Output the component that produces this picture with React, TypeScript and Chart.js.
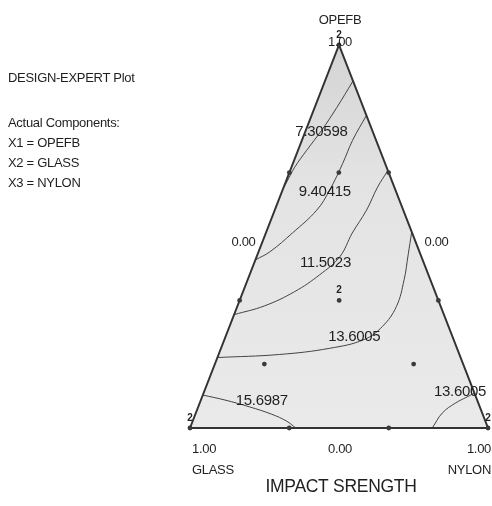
import { useEffect, useRef } from "react";
import { Chart, registerables } from "chart.js";

Chart.register(...registerables);

// A blend is [OPEFB, GLASS, NYLON] as component fractions.
type Blend = [number, number, number];

const componentNames = ["OPEFB", "GLASS", "NYLON"];
const responseName = "IMPACT SRENGTH";
const infoTitle = "DESIGN-EXPERT Plot";
const infoLines = ["Actual Components:", "X1 = OPEFB", "X2 = GLASS", "X3 = NYLON"];
const vertexTick = "1.00";
const oppositeTick = "0.00";

const vertices: Blend[] = [
  [1, 0, 0],
  [0, 1, 0],
  [0, 0, 1],
];

// Design runs and how many times each was replicated
const designRuns: Blend[] = [
  [1, 0, 0],
  [0, 1, 0],
  [0, 0, 1],
  [0.667, 0.333, 0],
  [0.333, 0.667, 0],
  [0.667, 0, 0.333],
  [0.333, 0, 0.667],
  [0, 0.667, 0.333],
  [0, 0.333, 0.667],
  [0.667, 0.167, 0.166],
  [0.167, 0.667, 0.166],
  [0.167, 0.166, 0.667],
  [0.333, 0.333, 0.334],
];
const replicates = [2, 2, 2, 1, 1, 1, 1, 1, 1, 1, 1, 1, 2];

// Contour levels of the fitted response
const contourLevels = [7.30598, 9.40415, 11.5023, 13.6005, 15.6987, 13.6005];

const contour1: Blend[] = [
  [0.906, 0, 0.094],
  [0.836, 0.09, 0.074],
  [0.777, 0.17, 0.053],
  [0.725, 0.246, 0.029],
  [0.681, 0.308, 0.011],
  [0.645, 0.351, 0.004],
  [0.625, 0.375, 0],
];
const contour2: Blend[] = [
  [0.816, 0, 0.184],
  [0.751, 0.079, 0.17],
  [0.691, 0.142, 0.167],
  [0.621, 0.221, 0.158],
  [0.569, 0.29, 0.141],
  [0.509, 0.402, 0.089],
  [0.46, 0.502, 0.038],
  [0.439, 0.561, 0],
];
const contour3: Blend[] = [
  [0.672, 0, 0.328],
  [0.629, 0.056, 0.315],
  [0.569, 0.123, 0.308],
  [0.509, 0.201, 0.29],
  [0.447, 0.274, 0.279],
  [0.4, 0.365, 0.235],
  [0.356, 0.471, 0.173],
  [0.319, 0.59, 0.091],
  [0.296, 0.704, 0],
];
const contour4: Blend[] = [
  [0.512, 0, 0.488],
  [0.452, 0.042, 0.506],
  [0.387, 0.088, 0.525],
  [0.317, 0.149, 0.534],
  [0.265, 0.222, 0.513],
  [0.231, 0.3, 0.469],
  [0.208, 0.428, 0.364],
  [0.192, 0.603, 0.205],
  [0.184, 0.816, 0],
];
const contour5: Blend[] = [
  [0.086, 0.914, 0],
  [0.073, 0.846, 0.081],
  [0.055, 0.772, 0.173],
  [0.036, 0.708, 0.256],
  [0.018, 0.667, 0.315],
  [0, 0.645, 0.355],
];
const contour6: Blend[] = [
  [0, 0.187, 0.813],
  [0.039, 0.134, 0.827],
  [0.065, 0.077, 0.858],
  [0.081, 0.03, 0.889],
  [0.091, 0, 0.909],
];
const contourLines = [contour1, contour2, contour3, contour4, contour5, contour6];

// Where each contour's level is written
const contourLabelAt: Blend[] = [
  [0.774, 0.172, 0.054],
  [0.616, 0.24, 0.144],
  [0.431, 0.33, 0.239],
  [0.239, 0.329, 0.432],
  [0.07, 0.724, 0.206],
  [0.094, 0.047, 0.859],
];

const FONT = '"Liberation Sans", Arial, sans-serif';
const INK = "#1f1f1f";

// Ternary blend -> plane: NYLON to the right, OPEFB up
const toXY = (b: Blend) => ({ x: b[2] + b[0] / 2, y: b[0] });

const pixelOf = (chart: any, b: Blend) => {
  const p = toXY(b);
  return { x: chart.scales.x.getPixelForValue(p.x), y: chart.scales.y.getPixelForValue(p.y) };
};

// Shaded simplex region behind the contours
const simplexFill = {
  id: "simplexFill",
  beforeDatasetsDraw(chart: any) {
    const { ctx } = chart;
    const [a, g, n] = vertices.map((v) => pixelOf(chart, v));
    const grad = ctx.createLinearGradient(0, a.y, 0, g.y);
    grad.addColorStop(0, "#d4d4d4");
    grad.addColorStop(0.35, "#e3e3e3");
    grad.addColorStop(1, "#eaeaea");
    ctx.save();
    ctx.beginPath();
    ctx.moveTo(g.x, g.y);
    ctx.lineTo(a.x, a.y);
    ctx.lineTo(n.x, n.y);
    ctx.closePath();
    ctx.fillStyle = grad;
    ctx.fill();
    ctx.restore();
  },
};

const textPlugin = {
  id: "ternaryText",
  afterDraw(chart: any) {
    const { ctx } = chart;
    const px = (b: Blend) => pixelOf(chart, b);
    ctx.save();
    ctx.fillStyle = INK;
    ctx.textBaseline = "middle";
    (ctx as any).letterSpacing = "-0.3px";

    // information block
    ctx.textAlign = "left";
    ctx.font = `13px ${FONT}`;
    ctx.fillText(infoTitle, 8, 78);
    infoLines.forEach((t, i) => ctx.fillText(t, 8, 123 + i * 20));

    const top = px(vertices[0]);
    const left = px(vertices[1]);
    const right = px(vertices[2]);

    // component names and vertex ticks
    ctx.font = `13px ${FONT}`;
    ctx.textAlign = "center";
    ctx.fillText(componentNames[0], top.x + 1, top.y - 25);
    ctx.fillText(vertexTick, top.x + 1, top.y - 3);
    ctx.textAlign = "left";
    ctx.fillText(vertexTick, left.x + 2, left.y + 21);
    ctx.fillText(componentNames[1], left.x + 2, left.y + 42);
    ctx.textAlign = "right";
    ctx.fillText(vertexTick, right.x + 3, right.y + 21);
    ctx.fillText(componentNames[2], right.x + 3, right.y + 42);

    // zero ticks at the middle of each opposite side
    const midLeft = px([0.5, 0.5, 0]);
    const midRight = px([0.5, 0, 0.5]);
    const midBottom = px([0, 0.5, 0.5]);
    ctx.textAlign = "center";
    ctx.fillText(oppositeTick, midLeft.x - 21, midLeft.y + 6);
    ctx.fillText(oppositeTick, midRight.x + 23, midRight.y + 6);
    ctx.fillText(oppositeTick, midBottom.x + 1, midBottom.y + 21);

    // response name
    ctx.font = `17.5px ${FONT}`;
    ctx.fillText(responseName, midBottom.x + 2, midBottom.y + 59);

    // contour level labels
    ctx.font = `15px ${FONT}`;
    contourLevels.forEach((lv, i) => {
      const p = px(contourLabelAt[i]);
      ctx.fillText(String(lv), p.x, p.y);
    });

    // replicate counts above repeated runs
    (ctx as any).letterSpacing = "0px";
    ctx.font = `bold 10px ${FONT}`;
    designRuns.forEach((b, i) => {
      if (replicates[i] > 1) {
        const p = px(b);
        ctx.fillText(String(replicates[i]), p.x, p.y - 10);
      }
    });
    ctx.restore();
  },
};

export default function App() {
  const canvasRef = useRef<HTMLCanvasElement | null>(null);

  useEffect(() => {
    const canvas = canvasRef.current;
    if (!canvas) return;

    const outline = [vertices[1], vertices[0], vertices[2], vertices[1]].map(toXY);

    const chart = new Chart(canvas, {
      type: "scatter",
      data: {
        datasets: [
          ...contourLines.map((line) => ({
            data: line.map(toXY),
            showLine: true,
            fill: false,
            tension: 0.4,
            borderColor: "#444444",
            borderWidth: 1,
            pointRadius: 0,
            order: 3,
            clip: false,
          })),
          {
            // triangle edges
            data: outline,
            showLine: true,
            fill: false,
            borderColor: "#333333",
            borderWidth: 2,
            borderJoinStyle: "miter",
            pointRadius: 0,
            order: 2,
            clip: false,
          } as any,
          {
            data: designRuns.map(toXY),
            pointRadius: 2.4,
            pointBackgroundColor: "#3a3a3a",
            pointBorderWidth: 0,
            order: 1,
            clip: false,
          } as any,
        ],
      },
      options: {
        responsive: false,
        animation: false,
        events: [],
        layout: { padding: { left: 190, right: 2, top: 45, bottom: 78 } },
        scales: {
          x: { type: "linear", min: 0, max: 1, display: false },
          y: { type: "linear", min: 0, max: 1, display: false },
        },
        plugins: {
          legend: { display: false },
          tooltip: { enabled: false },
          title: { display: false },
        },
      },
      plugins: [simplexFill, textPlugin],
    });

    return () => chart.destroy();
  }, []);

  return (
    <div
      style={{
        position: "absolute",
        left: 0,
        top: 0,
        width: 492,
        height: 506,
        background: "#ffffff",
        overflow: "hidden",
      }}
    >
      <canvas ref={canvasRef} width={492} height={506} style={{ display: "block" }} />
    </div>
  );
}
